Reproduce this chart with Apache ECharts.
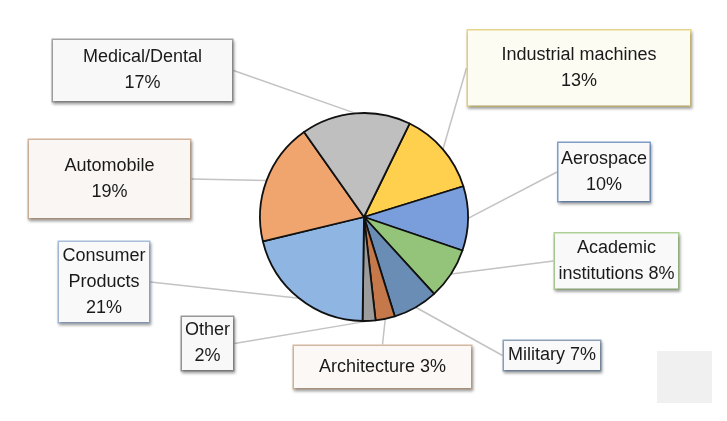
<!DOCTYPE html>
<html>
<head>
<meta charset="utf-8">
<script src="https://cdn.jsdelivr.net/npm/echarts@6/dist/echarts.min.js"></script>
<style>html,body{margin:0;padding:0;background:#fff}#c{width:727px;height:421px}</style>
</head>
<body>
<div id="c"></div>
<script>
// ---- data ----
const categories = ['Industrial machines', 'Aerospace', 'Academic institutions', 'Military', 'Architecture', 'Other', 'Consumer Products', 'Automobile', 'Medical/Dental'];
const values = [13, 10, 8, 7, 3, 2, 21, 19, 17];
const labelNames = ['Industrial machines', 'Aerospace', 'Academic\ninstitutions', 'Military', 'Architecture', 'Other', 'Consumer\nProducts', 'Automobile', 'Medical/Dental'];
const valueSeparators = ['\n', '\n', ' ', ' ', ' ', '\n', '\n', '\n', '\n'];

// ---- styling / layout (not data) ----
const sliceColors = ['#FFCF4E', '#7A9EDB', '#93C47A', '#6A8DB6', '#C57849', '#9C9C9C', '#8FB5E3', '#F0A46E', '#BFBFBF'];
const boxBorders = ['#E6D68C', '#7F9FC9', '#AECF96', '#8EA3BC', '#D5BBA2', '#9A9A9A', '#A9C0DC', '#D3B79F', '#A5A5A5'];
const boxFills = ['#FDFCF3', '#F9F9F9', '#F9F9F9', '#F9F9F9', '#FBF8F5', '#F8F8F8', '#F9F9F9', '#FAF6F3', '#F8F8F8'];
// label box centre x, centre y, width, height
const boxes = [
  [579, 68, 222, 75],
  [604, 172, 91, 58],
  [616.5, 261, 123, 55],
  [552, 355.5, 96, 29],
  [382.5, 367, 177, 42],
  [207.5, 343.5, 51, 53],
  [104, 282, 90, 80],
  [109.5, 179, 161, 78],
  [142.5, 70.5, 179, 61]
];
const LH = 26;

const data = categories.map((name, i) => {
  const lines = (labelNames[i] + valueSeparators[i]).split('\n').length;
  const b = boxes[i];
  const pv = Math.max(0, (b[3] - lines * LH) / 2);
  return {
    name: name,
    value: values[i],
    itemStyle: { color: sliceColors[i] },
    label: {
      width: b[2],
      padding: [pv, 0, pv, 0],
      borderColor: boxBorders[i],
      backgroundColor: boxFills[i]
    }
  };
});

const chart = echarts.init(document.getElementById('c'), null, { renderer: 'canvas' });
chart.setOption({
  backgroundColor: '#ffffff',
  animation: false,
  graphic: [{
    type: 'rect', z: -1,
    shape: { x: 657, y: 351, width: 55, height: 52 },
    style: { fill: '#F0F0F0' }
  }],
  series: [{
    type: 'pie',
    center: [364, 217],
    radius: 104,
    startAngle: 64,
    clockwise: true,
    avoidLabelOverlap: false,
    data: data,
    itemStyle: { borderColor: '#111111', borderWidth: 1.8 },
    label: {
      show: true,
      position: 'outside',
      formatter: p => labelNames[p.dataIndex] + valueSeparators[p.dataIndex] + p.value + '%',
      fontFamily: 'Liberation Sans, Arial, sans-serif',
      fontSize: 18,
      lineHeight: LH,
      color: '#1A1A1A',
      align: 'center',
      borderWidth: 1.5,
      borderRadius: 0,
      shadowColor: 'rgba(0,0,0,0.28)',
      shadowBlur: 3,
      shadowOffsetX: 1,
      shadowOffsetY: 2
    },
    labelLine: {
      show: true,
      length: 10,
      length2: 0,
      smooth: false,
      lineStyle: { color: '#C3C3C3', width: 1.5 }
    },
    labelLayout: function (params) {
      const b = boxes[params.dataIndex];
      return { x: b[0], y: b[1], align: 'center', verticalAlign: 'middle', hideOverlap: false };
    },
    emphasis: { disabled: true }
  }]
});
</script>
</body>
</html>
